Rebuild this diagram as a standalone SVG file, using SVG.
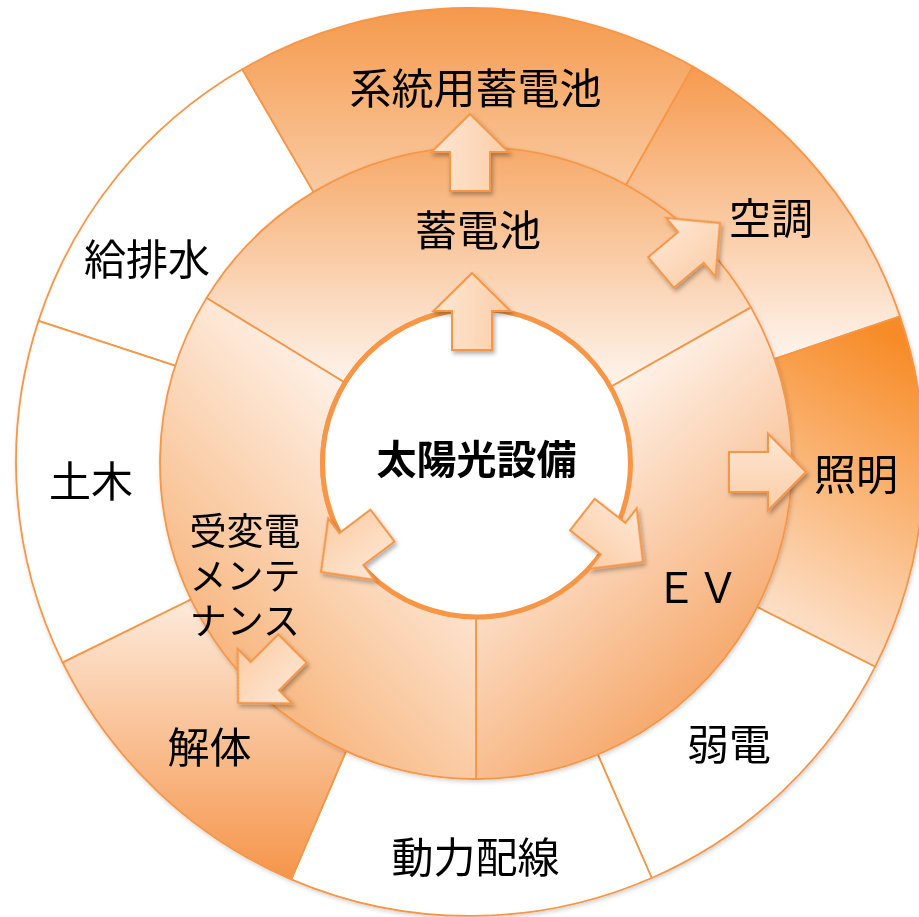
<svg xmlns="http://www.w3.org/2000/svg" width="919" height="917" viewBox="0 0 919 917">
<style>
.seg{stroke:#F79646;stroke-width:1.8;stroke-linejoin:round}
.lbl{font-family:"Noto Sans CJK JP","Noto Sans CJK SC",sans-serif;font-size:42px;fill:#000;text-anchor:middle}
.arr{stroke:#F79646;stroke-width:2;stroke-linejoin:miter;fill:url(#gArr)}
</style>
<defs>
<linearGradient id="gSys" gradientUnits="userSpaceOnUse" x1="0" y1="10" x2="0" y2="215"><stop offset="0" stop-color="#F59A4D"/><stop offset="1" stop-color="#FAD1AD"/></linearGradient>
<linearGradient id="gAir" gradientUnits="userSpaceOnUse" x1="0" y1="70" x2="0" y2="360"><stop offset="0" stop-color="#F69B50"/><stop offset="1" stop-color="#FEF5EE"/></linearGradient>
<linearGradient id="gLight" gradientUnits="userSpaceOnUse" x1="905" y1="345" x2="745" y2="640"><stop offset="0" stop-color="#F78C28"/><stop offset="1" stop-color="#FDE9DA"/></linearGradient>
<linearGradient id="gDemo" gradientUnits="userSpaceOnUse" x1="0" y1="600" x2="0" y2="880"><stop offset="0" stop-color="#FDEADB"/><stop offset="1" stop-color="#F5954A"/></linearGradient>
<linearGradient id="gMidTop" gradientUnits="userSpaceOnUse" x1="0" y1="147" x2="0" y2="390"><stop offset="0" stop-color="#F6A968"/><stop offset="1" stop-color="#FEF6F0"/></linearGradient>
<linearGradient id="gMidRight" gradientUnits="userSpaceOnUse" x1="560" y1="410" x2="770" y2="650"><stop offset="0" stop-color="#FFF6F0"/><stop offset="1" stop-color="#F5A566"/></linearGradient>
<linearGradient id="gMidLeft" gradientUnits="userSpaceOnUse" x1="410" y1="420" x2="180" y2="640"><stop offset="0" stop-color="#FFF5EE"/><stop offset="1" stop-color="#F7B379"/></linearGradient>
<linearGradient id="gArr" x1="0" y1="0" x2="1" y2="0"><stop offset="0" stop-color="#FEE7D4"/><stop offset="1" stop-color="#FBCDA6"/></linearGradient>
<filter id="sh" x="-20%" y="-20%" width="140%" height="140%"><feDropShadow dx="2" dy="3" stdDeviation="2" flood-color="#000" flood-opacity="0.3"/></filter>
<filter id="sh2" x="-5%" y="-5%" width="110%" height="110%"><feDropShadow dx="1" dy="2" stdDeviation="2" flood-color="#000" flood-opacity="0.18"/></filter>
<path id="arrow" d="M0,0 L38.5,38 L20,38 L20,77 L-20,77 L-20,38 L-38.5,38 Z"/>
</defs>

<g id="outer-ring" filter="url(#sh2)">
<g id="n-kyuhaisui"><path class="seg" fill="#FFFFFF" d="M38.5,320.9 A454,454 0 0 1 242.3,69.2 L319.5,202.4 A300,300 0 0 0 184.8,368.8 Z"/></g>
<g id="n-keito"><path class="seg" fill="url(#gSys)" d="M242.3,69.2 A454,454 0 0 1 692.9,66.5 L617.3,200.6 A300,300 0 0 0 319.5,202.4 Z"/></g>
<g id="n-kucho"><path class="seg" fill="url(#gAir)" d="M692.9,66.5 A454,454 0 0 1 900.0,316.4 L754.2,365.8 A300,300 0 0 0 617.3,200.6 Z"/></g>
<g id="n-shomei"><path class="seg" fill="url(#gLight)" d="M900.0,316.4 A454,454 0 0 1 875.2,666.7 L737.8,597.3 A300,300 0 0 0 754.2,365.8 Z"/></g>
<g id="n-jakuden"><path class="seg" fill="#FFFFFF" d="M875.2,666.7 A454,454 0 0 1 651.7,878.0 L590.1,736.9 A300,300 0 0 0 737.8,597.3 Z"/></g>
<g id="n-doryoku"><path class="seg" fill="#FFFFFF" d="M651.7,878.0 A454,454 0 0 1 291.2,879.3 L351.8,737.7 A300,300 0 0 0 590.1,736.9 Z"/></g>
<g id="n-kaitai"><path class="seg" fill="url(#gDemo)" d="M291.2,879.3 A454,454 0 0 1 62.6,662.4 L200.8,594.5 A300,300 0 0 0 351.8,737.7 Z"/></g>
<g id="n-doboku"><path class="seg" fill="#FFFFFF" d="M62.6,662.4 A454,454 0 0 1 38.5,320.9 L184.8,368.8 A300,300 0 0 0 200.8,594.5 Z"/></g>
</g>

<g id="middle-ring" filter="url(#sh2)">
<g id="n-chikudenchi"><path class="seg" fill="url(#gMidTop)" d="M206.6,297.9 A316,316 0 0 1 751.0,307.4 L610.9,386.7 A155,155 0 0 0 343.8,382.0 Z"/></g>
<g id="n-ev"><path class="seg" fill="url(#gMidRight)" d="M751.0,307.4 A316,316 0 0 1 476,779 L476,618 A155,155 0 0 0 610.9,386.7 Z"/></g>
<g id="n-juhenden"><path class="seg" fill="url(#gMidLeft)" d="M476,779 A316,316 0 0 1 206.6,297.9 L343.8,382.0 A155,155 0 0 0 476,618 Z"/></g>
</g>

<g id="n-center">
<circle cx="476.5" cy="463" r="154" fill="#FFFFFF" stroke="#F79646" stroke-width="5"/>
</g>

<g id="connectors" filter="url(#sh)">
<use href="#arrow" class="arr" transform="translate(470,114)"/>
<use href="#arrow" class="arr" transform="translate(472,273)"/>
<use href="#arrow" class="arr" transform="translate(720,223) rotate(50)"/>
<use href="#arrow" class="arr" transform="translate(806,472) rotate(90)"/>
<use href="#arrow" class="arr" transform="translate(643,562) rotate(128)"/>
<use href="#arrow" class="arr" transform="translate(321,572) rotate(233)"/>
<use href="#arrow" class="arr" transform="translate(238,703) rotate(225)"/>
</g>

<g id="labels">
<text class="lbl" x="476.5" y="474" style="font-weight:bold;font-size:40px">太陽光設備</text>
<text class="lbl" x="475.5" y="104">系統用蓄電池</text>
<text class="lbl" x="478" y="246">蓄電池</text>
<text class="lbl" x="771" y="234">空調</text>
<text class="lbl" x="147" y="275">給排水</text>
<text class="lbl" x="91" y="497">土木</text>
<text class="lbl" x="856" y="490">照明</text>
<text class="lbl" x="697" y="603">ＥＶ</text>
<text class="lbl" x="729" y="760">弱電</text>
<text class="lbl" x="475.5" y="873">動力配線</text>
<text class="lbl" x="209.5" y="763">解体</text>
<text class="lbl" style="font-size:37px"><tspan x="245" y="545">受変電</tspan><tspan x="245" y="590">メンテ</tspan><tspan x="245" y="635">ナンス</tspan></text>
</g>
</svg>
